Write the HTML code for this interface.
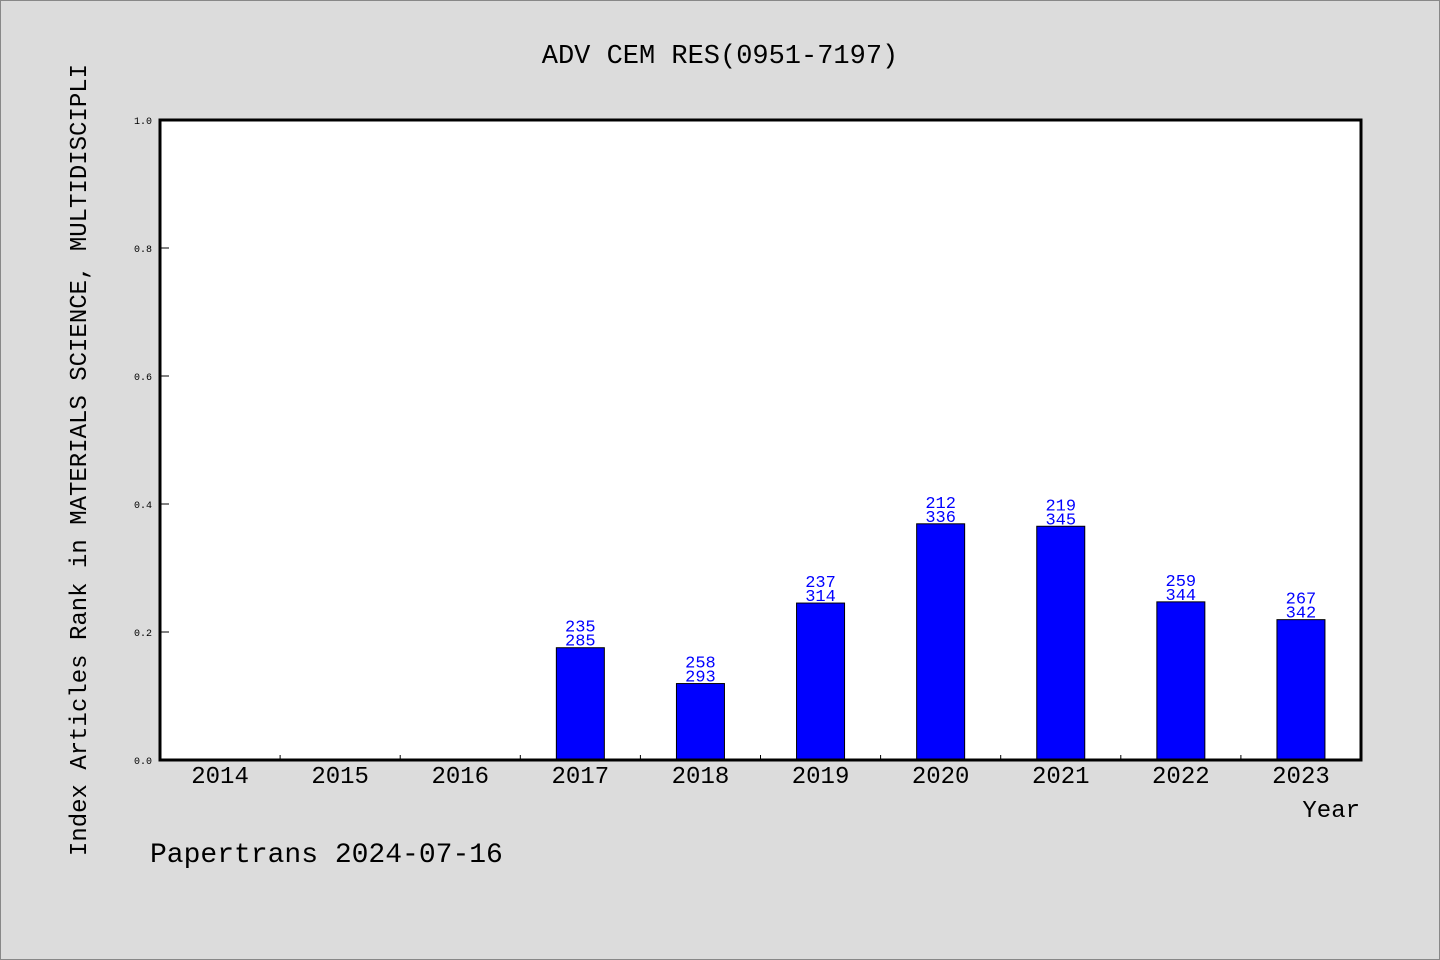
<!DOCTYPE html>
<html><head><meta charset="utf-8">
<style>
html,body{margin:0;padding:0;background:#dcdcdc;}
svg{display:block;}
text{font-family:"WenQuanYi Zen Hei","Liberation Mono","Noto Sans CJK SC",monospace;}
</style></head>
<body>
<svg id="chart" width="1440" height="960" viewBox="0 0 1440 960">
<rect x="0.5" y="0.5" width="1439" height="959" fill="#dcdcdc" stroke="#888"/>
<text x="720" y="63" font-size="27" text-anchor="middle" fill="#000">ADV CEM RES(0951-7197)</text>
<rect x="160" y="120" width="1201" height="640" fill="#fff"/>
<g id="bars"></g>
<g id="axes"></g>
<rect x="160" y="120" width="1201" height="640" fill="none" stroke="#000" stroke-width="3"/>
<text x="1360" y="817" font-size="24" text-anchor="end" fill="#000">Year</text>
<text transform="translate(86,460) rotate(-90)" font-size="24" text-anchor="middle" fill="#000">Index Articles Rank in MATERIALS SCIENCE, MULTIDISCIPLI</text>
<text x="150" y="862" font-size="28" fill="#000">Papertrans 2024-07-16</text>
</svg>
<script>
const years = ["2014","2015","2016","2017","2018","2019","2020","2021","2022","2023"];
const ranks = [null,null,null,235,258,237,212,219,259,267];
const totals = [null,null,null,285,293,314,336,345,344,342];
const yTicks = [0.0,0.2,0.4,0.6,0.8,1.0];
const yTickLabels = ["0.0","0.2","0.4","0.6","0.8","1.0"];

const NS="http://www.w3.org/2000/svg";
const L=160,R=1361,T=120,B=760;
const band=(R-L)/years.length;
const xc=i=>L+band*(i+0.5);
const y=v=>B-(v)*(B-T);
function mk(tag,attrs,parent){const e=document.createElementNS(NS,tag);for(const k in attrs)e.setAttribute(k,attrs[k]);parent.appendChild(e);return e;}
const bars=document.getElementById('bars'), axes=document.getElementById('axes');

years.forEach((yr,i)=>{
  if(ranks[i]!=null){
    const v=1-ranks[i]/totals[i];
    const r=mk('rect',{x:xc(i)-24,y:y(v),width:48,height:B-y(v),fill:'#0000ff',stroke:'#000','stroke-width':1},bars);
    
    
    const t1=mk('text',{x:xc(i),y:y(v)-16,'font-size':17,'text-anchor':'middle',fill:'#0000ff'},bars);
    t1.textContent=ranks[i];
    
    
    const t2=mk('text',{x:xc(i),y:y(v)-2,'font-size':17,'text-anchor':'middle',fill:'#0000ff'},bars);
    t2.textContent=totals[i];
    
    
  }
  const xl=mk('text',{x:xc(i),y:783,'font-size':24,'text-anchor':'middle',fill:'#000'},axes);
  xl.textContent=yr;
  
  
  if(i>0){
    const tk=mk('line',{x1:L+band*i,x2:L+band*i,y1:B,y2:B-5,stroke:'#000','stroke-width':1},axes);
    
    
  }
});
yTicks.forEach((v,i)=>{
  const tk=mk('line',{x1:L,x2:L+9,y1:y(v),y2:y(v),stroke:'#000','stroke-width':1},axes);
  
  
  const tl=mk('text',{x:152,y:y(v)+4,'font-size':10,'text-anchor':'end',fill:'#000'},axes);
  tl.textContent=yTickLabels[i];
  
  
});
</script>
</body></html>
